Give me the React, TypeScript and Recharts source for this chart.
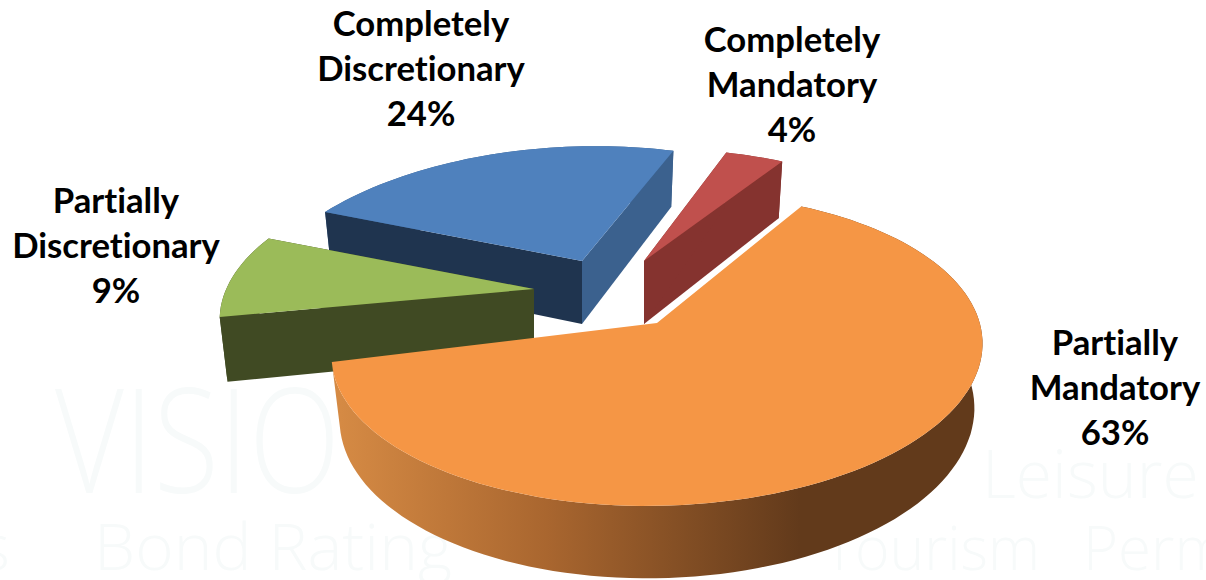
import { PieChart, Pie } from 'recharts'

const categories = ['Partially Discretionary', 'Completely Discretionary', 'Completely Mandatory', 'Partially Mandatory']
const shares = [9, 24, 4, 63]
const watermark = ['VISIO', 'Leisure', 's', 'Bond Rating', 'Tourism', 'Perm']

const data = categories.map((name, i) => ({ name, value: shares[i] }))

const WIDTH = 1206
const HEIGHT = 580
const FONT = 'Lato, Carlito, Calibri, sans-serif'

// tilt of the pie plane
const FLATTEN = 0.473
const DEPTH = 63

type SliceStyle = {
  dx: number
  dy: number
  scale: number
  shear: number
  roll: number
  perspective: number
  top: string
  startWall: string
  endWall: string
  rim: string
  label: [number, number]
  front: boolean
}

const sliceStyles: Record<string, SliceStyle> = {
  'Partially Discretionary': {
    dx: -123, dy: -34, scale: 0.965, shear: 10, roll: 4, perspective: 0.2, front: true,
    top: '#9bbb59', startWall: '#404a23', endWall: '#404a23', rim: '#404a23', label: [116, 213],
  },
  'Completely Discretionary': {
    dx: -75, dy: -62, scale: 0.98, shear: 29, roll: 3, perspective: 0.28, front: false,
    top: '#4f81bd', startWall: '#1f344f', endWall: '#3b618e', rim: '#3b618e', label: [421, 36],
  },
  'Completely Mandatory': {
    dx: -13, dy: -62, scale: 0.93, shear: 20, roll: -2, perspective: 0.25, front: false,
    top: '#c0504d', startWall: '#85332f', endWall: '#85332f', rim: '#85332f', label: [792, 52],
  },
  'Partially Mandatory': {
    dx: 0, dy: 0, scale: 1.012, shear: 0, roll: -6, perspective: 0.17, front: true,
    top: '#f59645', startWall: 'none', endWall: 'none', rim: 'url(#orangeRim)', label: [1115, 355],
  },
}

type Pt = [number, number]

function project(theta: number, r: number, rx: number, ax: number, ay: number, s: SliceStyle, floor: boolean): Pt {
  const rad = (theta * Math.PI) / 180
  const u = r * Math.sin(rad)
  const v = r * Math.cos(rad)
  const w = 1 + s.perspective * v
  let x = ((rx * u + s.shear * v) / w) * s.scale
  let y = ((-rx * FLATTEN * v) / w) * s.scale + s.roll * u
  if (floor) {
    x *= 0.975
    y += DEPTH / (1 + 0.13 * v)
  }
  return [ax + x, ay + y]
}

const toPath = (pts: Pt[]) => 'M' + pts.map((p) => `${p[0].toFixed(1)},${p[1].toFixed(1)}`).join('L') + 'Z'

// extruded wedge: cut walls and rim first, the top face last
function Wedge3D(props: any) {
  const { cx, cy, outerRadius, startAngle, endAngle, name } = props
  const s = sliceStyles[name]
  const ax = cx + s.dx
  const ay = cy + s.dy
  const from = 90 - startAngle
  const to = 90 - endAngle
  const steps = Math.max(8, Math.ceil((to - from) / 2))
  const thetas: number[] = []
  for (let i = 0; i <= steps; i++) thetas.push(from + ((to - from) * i) / steps)

  const at = (t: number, r: number, floor: boolean) => project(t, r, outerRadius, ax, ay, s, floor)
  const apexTop = at(0, 0, false)
  const apexFloor = at(0, 0, true)
  const rimTop = thetas.map((t) => at(t, 1, false))
  const rimFloor = thetas.map((t) => at(t, 1, true))

  const startPath = toPath([apexTop, rimTop[0], rimFloor[0], apexFloor])
  const endPath = toPath([apexTop, rimTop[steps], rimFloor[steps], apexFloor])
  const rimPath = toPath([...rimTop, ...[...rimFloor].reverse()])

  return (
    <g>
      <defs>
        <linearGradient id="orangeRim" gradientUnits="userSpaceOnUse" x1={340} y1={0} x2={800} y2={0}>
          <stop offset="0" stopColor="#d58a44" />
          <stop offset="0.45" stopColor="#a9662f" />
          <stop offset="1" stopColor="#623a1b" />
        </linearGradient>
      </defs>
      <path d={rimPath} fill={s.rim} />
      <path d={endPath} fill={s.endWall} />
      <path d={startPath} fill={s.startWall} />
      <path d={toPath([apexTop, ...rimTop])} fill={s.top} />
    </g>
  )
}

// slices are split over two passes so the green and orange ones sit over the blue walls
const BackWedge = (props: any) => (sliceStyles[props.name].front ? <g /> : <Wedge3D {...props} />)
const FrontWedge = (props: any) => (sliceStyles[props.name].front ? <Wedge3D {...props} /> : <g />)

function SliceLabel(props: any) {
  const { name, percent } = props
  const [x, y] = sliceStyles[name].label
  const lines = [...name.split(' '), `${Math.round(percent * 100)}%`]
  return (
    <text
      x={x}
      y={y}
      textAnchor="middle"
      fill="#000"
      fontFamily={FONT}
      fontWeight={700}
      fontSize={34.7}
      style={{ fontVariantLigatures: 'none' }}
    >
      {lines.map((line: string, i: number) => (
        <tspan key={line} x={x} y={y + i * 45}>
          {line}
        </tspan>
      ))}
    </text>
  )
}

export default function App() {
  const faint = { fill: '#f7fafa', fontFamily: 'Open Sans, sans-serif', fontWeight: 300 }
  const pieProps = {
    data,
    dataKey: 'value',
    nameKey: 'name',
    cx: 657,
    cy: 323,
    outerRadius: 317,
    startAngle: -167.8,
    endAngle: -527.8,
    stroke: 'none',
    isAnimationActive: false,
  }
  return (
    <div style={{ position: 'absolute', left: 0, top: 0, width: WIDTH, height: HEIGHT, background: '#fff', overflow: 'hidden' }}>
      <svg width={WIDTH} height={HEIGHT} style={{ position: 'absolute', left: 0, top: 0 }}>
        <text x={55} y={493} fontSize={145} textLength={285} lengthAdjust="spacingAndGlyphs" {...faint}>{watermark[0]}</text>
        <text x={982} y={498} fontSize={66} {...faint}>{watermark[1]}</text>
        <text x={-20} y={570} fontSize={64} {...faint}>{watermark[2]}</text>
        <text x={94} y={570} fontSize={64} textLength={358} lengthAdjust="spacingAndGlyphs" {...faint}>{watermark[3]}</text>
        <text x={824} y={570} fontSize={60} textLength={216} lengthAdjust="spacingAndGlyphs" {...faint}>{watermark[4]}</text>
        <text x={1083} y={570} fontSize={60} {...faint}>{watermark[5]}</text>
      </svg>
      <div style={{ position: 'absolute', left: 0, top: 0 }}>
        <PieChart width={WIDTH} height={HEIGHT} margin={{ top: 0, right: 0, bottom: 0, left: 0 }}>
          <Pie {...pieProps} shape={BackWedge} label={false} />
          <Pie {...pieProps} shape={FrontWedge} label={SliceLabel} labelLine={false} />
        </PieChart>
      </div>
    </div>
  )
}
